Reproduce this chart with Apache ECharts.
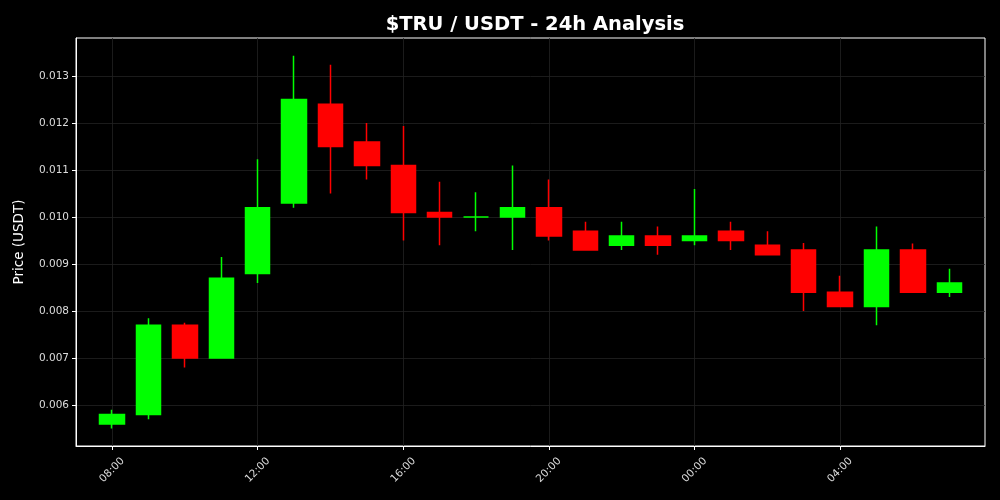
<!DOCTYPE html>
<html><head><meta charset="utf-8">
<script src="https://cdn.jsdelivr.net/npm/echarts@6/dist/echarts.min.js"></script>
<style>html,body{margin:0;background:#000}#c{width:1000px;height:500px}</style>
</head><body><div id="c"></div>
<script>
const times = ['08:00','09:00','10:00','11:00','12:00','13:00','14:00','15:00','16:00','17:00','18:00','19:00',
               '20:00','21:00','22:00','23:00','00:00','01:00','02:00','03:00','04:00','05:00','06:00','07:00'];
const openVals  = [0.0056,0.0058,0.0077,0.0070,0.0088,0.0103,0.0124,0.0116,0.0111,0.0101,0.0100,0.0100,
                   0.0102,0.0097,0.0094,0.0096,0.0095,0.0097,0.0094,0.0093,0.0084,0.0081,0.0093,0.0084];
const closeVals = [0.0058,0.0077,0.0070,0.0087,0.0102,0.0125,0.0115,0.0111,0.0101,0.0100,0.0100,0.0102,
                   0.0096,0.0093,0.0096,0.0094,0.0096,0.0095,0.0092,0.0084,0.0081,0.0093,0.0084,0.0086];
const lowVals   = [0.0055,0.0057,0.0068,0.0070,0.0086,0.0102,0.0105,0.0108,0.0095,0.0094,0.0097,0.0093,
                   0.0095,0.0093,0.0093,0.0092,0.0094,0.0093,0.0092,0.0080,0.0081,0.0077,0.0084,0.0083];
const highVals  = [0.0059,0.00785,0.00775,0.00915,0.01123,0.01343,0.01324,0.0120,0.01194,0.01075,0.01053,0.0111,
                   0.0108,0.0099,0.0099,0.0098,0.0106,0.0099,0.0097,0.00945,0.00875,0.0098,0.00944,0.0089];
const yTicks = [0.006,0.007,0.008,0.009,0.010,0.011,0.012,0.013];
const xTicks = [0,4,8,12,16,20];

const data = times.map((t,i)=>[i, openVals[i], closeVals[i], lowVals[i], highVals[i]]);
const chart = echarts.init(document.getElementById('c'), null, {renderer:'canvas'});
const fontFamily = 'DejaVu Sans';
chart.setOption({
  backgroundColor:'#000',
  animation:false,
  title:{text:'$TRU / USDT - 24h Analysis', left:530, top:10, textAlign:'center',
    textStyle:{color:'#fff', fontSize:19.5, fontWeight:'bold', fontFamily}},
  grid:{left:76, right:15, top:38, bottom:54, show:true, borderColor:'#fff', borderWidth:1},
  xAxis:{type:'value', min:-0.99, max:23.98, minInterval:4, maxInterval:4,
    axisLine:{show:true, onZero:false, lineStyle:{color:'#fff'}},
    axisTick:{show:true, length:4, lineStyle:{color:'#fff'}, customValues:xTicks},
    axisLabel:{color:'#ddd', fontSize:10.5, fontFamily, rotate:45, margin:24, align:'center', verticalAlign:'middle',
      customValues:xTicks, formatter:v=>times[Math.round(v)] || ''},
    splitLine:{show:true, lineStyle:{color:'#222', width:0.8}}},
  yAxis:{type:'value', min:0.00513, max:0.01381, minInterval:0.001, maxInterval:0.001, splitNumber:8,
    name:'Price (USDT)', nameLocation:'middle', nameGap:50,
    nameTextStyle:{color:'#fff', fontSize:13.5, fontFamily},
    axisLine:{show:true, onZero:false, lineStyle:{color:'#fff'}},
    axisTick:{show:true, length:4, lineStyle:{color:'#fff'}, customValues:yTicks},
    axisLabel:{color:'#ddd', fontSize:10.5, fontFamily, margin:7, customValues:yTicks,
      formatter:v=>v.toFixed(3)},
    splitLine:{show:true, lineStyle:{color:'#222', width:0.8}}},
  series:[{type:'candlestick', data, encode:{x:0, y:[1,2,3,4]}, barWidth:25,
    itemStyle:{color:'#00ff00', color0:'#ff0000', borderColor:'#00ff00', borderColor0:'#ff0000', borderWidth:1.5}}]
});
</script></body></html>
